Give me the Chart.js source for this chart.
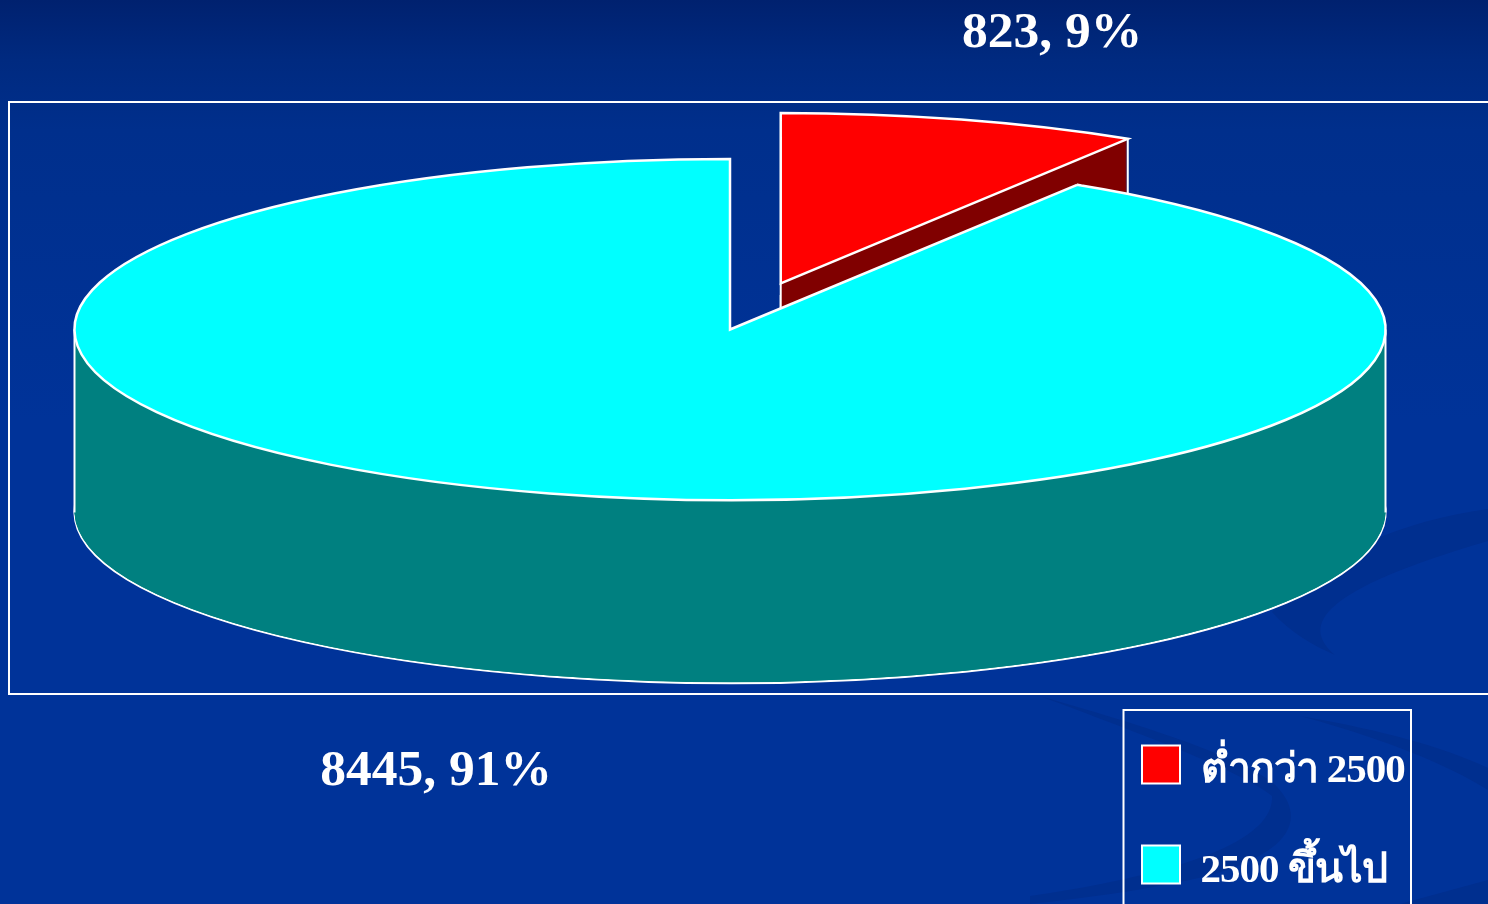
<!DOCTYPE html>
<html>
<head>
<meta charset="utf-8">
<script src="https://cdn.jsdelivr.net/npm/chart.js@4/dist/chart.umd.min.js"></script>
<style>
html,body{margin:0;padding:0;width:1488px;height:904px;overflow:hidden;
background:linear-gradient(180deg,#00216f 0px,#002a80 60px,#002f8c 130px,#003399 420px,#003399 904px);}
svg,canvas{position:absolute;left:0;top:0;display:block;}
</style>
</head>
<body>
<svg width="1488" height="904" viewBox="0 0 1488 904">
  <g fill="#002f8f">
    <path d="M1488,509 C1400,522 1330,550 1272,612 C1290,632 1312,645 1335,655 C1300,625 1320,590 1488,541 Z"/>
    <path d="M1040,696 C1130,722 1230,752 1272,782 C1305,812 1300,848 1215,874 C1150,890 1085,898 1030,904 L1030,896 C1140,880 1275,850 1272,796 C1240,770 1130,730 1040,696 Z"/>
    <path d="M1300,716 C1370,735 1440,760 1488,790 L1488,768 C1440,745 1370,728 1300,716 Z"/>
    <path d="M1400,904 L1488,880 L1488,904 Z"/>
  </g>
</svg>
<canvas id="c" width="1488" height="904"></canvas>
<script>
const categories = ['ต่ำกว่า 2500', '2500 ขึ้นไป'];
const values = [823, 8445];
const percents = [9, 91];
const topColors = ['#ff0000', '#00ffff'];
const sideColors = ['#800000', '#008080'];
const explodeFractions = [0.281, 0];

const RX = 655.5, RY = 170.5, DEPTH = 183;
const FRAME = {x: 9, y: 102, w: 1500, h: 592};
const LEGEND_BOX = {x: 1123.5, y: 710, w: 287.5, h: 220};
const LABEL_POS = [[1052, 34], [436, 772]];
const LEGEND_AT = {x: 1142, y: 744};
const LEGEND_PAD = 59;
const SERIF = '"Liberation Serif","Times New Roman",serif';

function plainOptions(bg, bw) {
  return {backgroundColor: bg, borderColor: '#ffffff', borderWidth: bw, borderAlign: 'center',
    borderJoinStyle: 'miter', borderRadius: 0, offset: 0, spacing: 0, circular: true,
    borderDash: [], borderDashOffset: 0};
}

const pie3d = {
  id: 'pie3d',
  beforeDraw(chart) {
    const c = chart.ctx;
    c.save();
    c.strokeStyle = '#fff';
    c.lineWidth = 2;
    c.strokeRect(FRAME.x, FRAME.y, FRAME.w, FRAME.h);
    c.strokeRect(LEGEND_BOX.x, LEGEND_BOX.y, LEGEND_BOX.w, LEGEND_BOX.h);
    c.restore();
  },
  afterLayout(chart) {
    const l = chart.legend;
    const w = l.width, h = l.height;
    l.left = LEGEND_AT.x - LEGEND_PAD; l.top = LEGEND_AT.y - LEGEND_PAD;
    l.right = l.left + w; l.bottom = l.top + h;
    if (!l.__wrapped) {
      l.__wrapped = true;
      const baseDraw = l._draw;
      // legend text sits a little below its swatch in the reference
      l._draw = function () {
        const c = chart.ctx;
        const ft = c.fillText;
        c.save();
        c.letterSpacing = '-1px';
        c.fillText = function (t, x, y, m) {
          return m === undefined ? ft.call(c, t, x, y + 7) : ft.call(c, t, x, y + 7, m);
        };
        baseDraw.call(l);
        delete c.fillText;
        c.restore();
      };
    }
  },
  beforeDatasetsDraw(chart) {
    const c = chart.ctx;
    const arcs = chart.getDatasetMeta(0).data;
    const origStroke = c.stroke;
    // keep an even pen width under the flattened projection
    c.stroke = function () {
      c.save();
      c.setTransform(1, 0, 0, 1, 0, 0);
      origStroke.call(c);
      c.restore();
    };
    const project = (arc, i, dy) => {
      const R = arc.outerRadius;
      const mid = (arc.startAngle + arc.endAngle) / 2;
      c.translate(arc.x, arc.y + dy);
      c.scale(RX / R, RY / R);
      c.translate(-arc.x, -arc.y);
      c.translate(Math.cos(mid) * explodeFractions[i] * R, Math.sin(mid) * explodeFractions[i] * R);
    };
    arcs.forEach((arc, i) => {
      const keep = arc.options;
      // extruded side
      for (let d = DEPTH; d > 0; d--) {
        c.save();
        project(arc, i, d);
        arc.options = plainOptions(sideColors[i], d === DEPTH ? 2 : 0);
        arc.draw(c);
        c.restore();
      }
      // vertical silhouette edges
      const mid = (arc.startAngle + arc.endAngle) / 2;
      const ox = Math.cos(mid) * explodeFractions[i];
      const oy = Math.sin(mid) * explodeFractions[i];
      c.save();
      c.strokeStyle = '#fff';
      c.lineWidth = 2;
      const rimPoint = a => [arc.x + (Math.cos(a) + ox) * RX, arc.y + (Math.sin(a) + oy) * RY];
      const edges = i === 1
        ? [rimPoint(Math.PI), rimPoint(0)]
        : [rimPoint(arc.endAngle), [arc.x + ox * RX, arc.y + oy * RY]];
      edges.forEach(([px, py]) => {
        c.beginPath();
        c.moveTo(px, py);
        c.lineTo(px, py + DEPTH);
        origStroke.call(c);
      });
      c.restore();
      // top face
      c.save();
      project(arc, i, 0);
      arc.options = plainOptions(topColors[i], 2.5);
      arc.draw(c);
      c.restore();
      arc.options = keep;
    });
    delete c.stroke;
    // value labels
    c.save();
    c.fillStyle = '#fff';
    c.font = 'bold 51.5px ' + SERIF;
    c.textAlign = 'center';
    c.textBaseline = 'middle';
    values.forEach((v, i) => {
      c.fillText(v + ', ' + percents[i] + '%', LABEL_POS[i][0], LABEL_POS[i][1]);
    });
    c.restore();
    return false;
  }
};

new Chart(document.getElementById('c'), {
  type: 'pie',
  data: {
    labels: categories,
    datasets: [{data: values, backgroundColor: topColors, borderColor: '#ffffff', borderWidth: 2}]
  },
  options: {
    responsive: false,
    animation: false,
    layout: {padding: {left: 401, right: 429, top: 1, bottom: 246}},
    plugins: {
      tooltip: {enabled: false},
      legend: {
        position: 'chartArea',
        align: 'start',
        labels: {
          boxWidth: 38, boxHeight: 38, padding: LEGEND_PAD,
          color: '#ffffff',
          font: {family: SERIF, size: 41, weight: 'bold', lineHeight: 1},
        }
      }
    }
  },
  plugins: [pie3d]
});
</script>
</body>
</html>
